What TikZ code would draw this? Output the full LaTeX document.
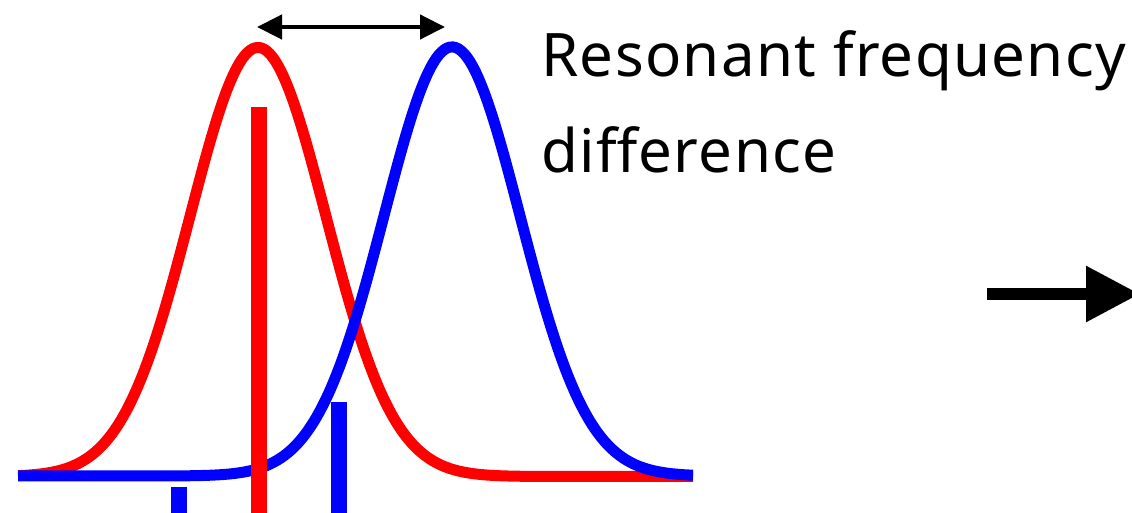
\documentclass[tikz,border=0pt]{standalone}
\usepackage{fontspec}
\newfontfamily\lblfont[LetterSpace=2.2]{Noto Sans}
\usetikzlibrary{arrows.meta}
\tikzset{
  curve/.style={line width=11pt},
  bar/.style={fill},
  dimarrow/.style={line width=4.5pt, {Triangle[length=25pt,width=24pt]}-{Triangle[length=25pt,width=24pt]}},
  bigarrow/.style={line width=12pt, -{Triangle[length=54pt,width=53pt]}},
  lbl/.style={font=\lblfont\fontsize{60pt}{96pt}\selectfont, inner sep=0pt, anchor=base west}
}
\begin{document}
\begin{tikzpicture}[x=1pt,y=-1pt]
\useasboundingbox (0,0) rectangle (1132,513);
\clip (0,0) rectangle (1132,513);
% red spectrum
\draw[curve, red] plot[domain=18:693, samples=240, smooth] (\x, {476.5 - 429*exp(-0.5*((\x-258)/68)^2)});
% blue spectrum
\draw[curve, blue] plot[domain=18:693, samples=240, smooth] (\x, {476 - 429*exp(-0.5*((\x-452)/68)^2)});
% bars
\fill[bar, red] (251,107) rectangle (267,520);
\fill[bar, blue] (331,402) rectangle (347,520);
\fill[bar, blue] (171,487) rectangle (187,520);
% frequency difference arrow
\coordinate (pl) at (257,27);
\coordinate (pr) at (445,27);
\draw[dimarrow] (pl) -- (pr);
% label
\node[lbl] (t1) at (541,77) {Resonant frequency};
\node[lbl] (t2) at (541,173) {difference};
% right arrow
\coordinate (as) at (987,294);
\coordinate (ae) at (1140,294);
\draw[bigarrow] (as) -- (ae);
\end{tikzpicture}
\end{document}
